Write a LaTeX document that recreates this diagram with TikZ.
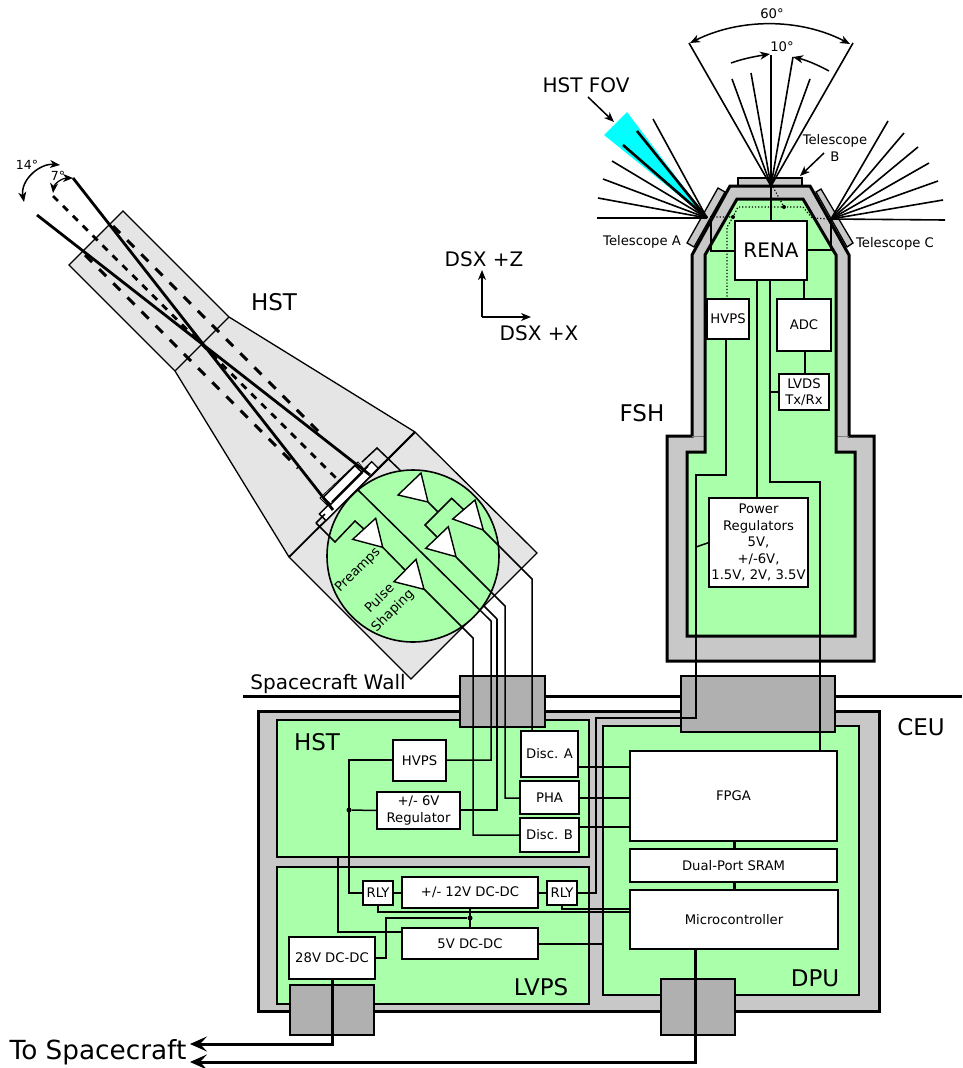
\documentclass[tikz,border=0pt]{standalone}
\usepackage{fontspec}
\setmainfont{DejaVu Sans}
\usetikzlibrary{arrows.meta}
\definecolor{gr}{HTML}{AAFFAA}
\definecolor{hs}{HTML}{C8C8C8}
\definecolor{cn}{HTML}{B0B0B0}
\definecolor{pn}{HTML}{E5E5E5}
\definecolor{fovc}{HTML}{00FFFF}
\tikzset{
 wire/.style={line width=1.5pt,line join=miter},
 heavy/.style={line width=3pt},
 box/.style={draw,fill=white,line width=1.6pt,inner sep=0pt,outer sep=0pt,align=center},
 conn/.style={draw,fill=cn,line width=1.4pt},
 panel/.style={draw,fill=gr,line width=1.4pt},
 tri/.style={draw,fill=white,line width=1.4pt,line join=miter},
 biglab/.style={font=\fontsize{23}{28}\selectfont,inner sep=0pt},
 midlab/.style={font=\fontsize{20}{24}\selectfont,inner sep=0pt},
 smalllab/.style={font=\fontsize{13.2}{16}\selectfont,inner sep=0pt},
 tinylab/.style={font=\fontsize{12.5}{14}\selectfont,inner sep=0pt},
 boxtext/.style={font=\fontsize{13.2}{16.5}\selectfont,inner sep=0pt,align=center},
 jdot/.style={circle,fill=black,inner sep=0pt,minimum size=5pt},
 ray/.style={line width=1.6pt},
 thickray/.style={line width=2.6pt},
 arr/.style={line width=1.5pt,-{Stealth[length=10pt,width=8pt,inset=3pt]}},
 darr/.style={line width=1.5pt,{Stealth[length=10pt,width=8pt,inset=3pt]}-{Stealth[length=10pt,width=8pt,inset=3pt]}},
 outarr/.style={line width=3pt,-{Stealth[length=17pt,width=15pt,inset=7pt]}},
}
\newcommand{\bx}[6][]{\node[box,#1,minimum width={(#5-#3)*1pt},minimum height={(#6-#4)*1pt}] (#2) at ({(#3+#5)/2},{(#4+#6)/2}) {};}
\begin{document}
\begin{tikzpicture}[x=1pt,y=-1pt]
\useasboundingbox (0,0) rectangle (962,1068);
% ---- HST head
\draw[fill=pn,line width=1.3pt,line join=miter] (123,211)--(229,317)--(415,432)--(537,553)--(411,679)--(289,557)--(175,371)--(69,265)--cycle;
\draw[line width=1.3pt] (175,371)--(229,317);
\draw[line width=1.8pt] (289,557)--(415,432);
\draw[line width=3pt,dash pattern=on 10pt off 10pt] (113,226)--(324,437);
\draw[line width=3pt,dash pattern=on 10pt off 10pt] (85,255)--(298,468);
\draw[line width=2.8pt,dash pattern=on 7pt off 7pt] (53,196)--(337,479);
% detector plates
\draw[fill=white,line width=.8pt] (358,462)--(320,498)--(332,510)--(368,474)--cycle;
\draw[tri] (371.7,461.7)--(378.3,468.3)--(326,520.7)--(319.3,514)--cycle;
\draw[tri] (355,465.7)--(323.3,497.3)--(330.7,504.3)--(362.3,472.7)--cycle;
\draw[line width=2pt] (368,466)--(332,502);
\draw[wire] (316,523)--(325,514);
\draw[wire] (362,462)--(377,448)--(402,472)--(402,475)--(410,483);
% wire passing under the circle
\coordinate (undercircle) at (470,592);
\coordinate (regtap) at (497,619);
\draw[wire] (undercircle)--(regtap);
% circle
\node[circle,draw,fill=gr,line width=1.6pt,minimum size=172pt,inner sep=0pt] (can) at (413,556) {};
\draw[line width=1.8pt] (415,432)--(370,477);
\draw[line width=2.8pt] (73,178)--(333,510);
\draw[line width=2.8pt] (37,215)--(370,475);
\draw[wire] (316,523)--(335,542)--(355,521)--(365,530);
\draw[wire] (463.3,509.3)--(451.7,498.3)--(425,525)--(436.7,536.7);
\draw[wire] (428,502)--(438,512);
\draw[wire] (382.7,547.3)--(405,570);
\draw[tri] (398,495)--(421,473)--(428,502)--cycle;
\draw[tri] (452.7,519)--(475,500)--(483.3,530)--cycle;
\draw[tri] (425.7,548.3)--(448.3,526.7)--(456,556.7)--cycle;
\draw[tri] (352.7,539.3)--(375.7,518.3)--(382.7,547.3)--cycle;
\draw[tri] (394,581.7)--(416,559.3)--(424,589.3)--cycle;
\node[smalllab,rotate=45] (preamps) at (358,570) {Preamps};
\node[smalllab,rotate=45] (pulse) at (379,598) {Pulse};
\node[smalllab,rotate=45] (shaping) at (393,611) {Shaping};
\node[tinylab] (l14) at (27,165) {14°};
\node[tinylab] (l7) at (58,176) {7°};
\draw[darr] (60,165) .. controls (40,163) and (20,180) .. (24,202);
\draw[darr,line width=1.2pt] (73,178) .. controls (62,178) and (54,184) .. (53,193);
\node[biglab] (hstlab) at (274,302) {HST};
% ---- axes
\coordinate (ax) at (482,317);
\coordinate (axz) at (482,270);
\coordinate (axx) at (531,317);
\draw[arr] (ax)--(axz);
\draw[arr] (ax)--(axx);
\node[midlab] (dsxz) at (484,259) {DSX +Z};
\node[midlab] (dsxx) at (539,333) {DSX +X};
% ---- FSH
\fill[fovc] (604,135)--(627,112)--(707,218)--cycle;
\draw[fill=hs,line width=1.3pt] (718,188)--(725,192)--(694,247)--(687,243)--cycle;
\draw[fill=hs,line width=1.3pt] (816,192)--(821,189)--(853,243)--(847,247)--cycle;
\draw[fill=hs,line width=1.3pt] (738,178) rectangle (802,187);
\draw[fill=hs,line width=3pt,line join=miter] (667,436)--(692,436)--(692,255)--(730,186)--(810,186)--(849,255)--(849,436)--(874,436)--(874,661)--(667,661)--cycle;
\draw[gray,line width=.8pt] (692,436)--(705,436) (836,436)--(849,436);
\draw[fill=gr,line width=3pt,line join=miter] (687,452)--(705,452)--(705,255)--(737,199)--(803,199)--(836,255)--(836,452)--(855,452)--(855,636)--(687,636)--cycle;
% telescope rays
\coordinate (apA) at (707,218);
\coordinate (apB) at (771,186);
\coordinate (apC) at (831,219);
\foreach \p in {(597,218),(598,198),(603,179),(612,161),(653,119)} \draw[ray] (apA)--\p;
\foreach \p in {(623,145),(637,131)} \draw[thickray] (apA)--\p;
\foreach \p in {(945,220),(943,200),(938,181),(929,163),(918,147),(904,133),(888,121)} \draw[ray] (apC)--\p;
\foreach \p in {(689,43),(732,79),(751,73),(793,57),(810,79),(853,43)} \draw[ray] (apB)--\p;
\draw[thickray] (apB)--(771,55);
\draw[darr] (690,43) .. controls (740,18) and (800,18) .. (850,44);
\draw[arr] (731,63) .. controls (745,58) and (758,56) .. (770,54);
\draw[arr] (829,71) .. controls (818,65) and (806,60) .. (793,57);
\node[smalllab] (l60) at (772,14) {60°};
\node[smalllab] (l10) at (782,47) {10°};
\node[midlab] (fov) at (586,85) {HST FOV};
\coordinate (fovA) at (588,97);
\coordinate (fovB) at (614,122);
\draw[arr] (fovA)--(fovB);
\node[smalllab] (tb) at (835,141) {Telescope};
\node[smalllab] (tbb) at (835,157) {B};
\coordinate (tbA) at (824,153);
\coordinate (tbB) at (800,176);
\draw[arr] (tbA)--(tbB);
\node[smalllab] (ta) at (642,242) {Telescope A};
\node[smalllab] (tc) at (895,244) {Telescope C};
\node[biglab] (fshlab) at (642,413) {FSH};
% FSH boxes
\bx{rena}{735}{221}{807}{280}
\bx{hv}{707}{299}{749}{339}
\bx{adc}{777}{299}{831}{351}
\bx{lvds}{779}{374}{829}{410}
\bx{power}{709}{498}{808}{587}
\node[font=\fontsize{20}{24}\selectfont,inner sep=0pt] at (rena) {RENA};
\node[boxtext] at (hv) {HVPS};
\node[boxtext] at (adc) {ADC};
\node[boxtext] at (lvds) {LVDS\\Tx/Rx};
\node[boxtext] at (power) {Power\\Regulators\\5V,\\+/-6V,\\1.5V, 2V, 3.5V};
\draw[wire] (apB)--(771,221);
\draw[wire] (rena.west |- 0,251)--(711,251)--(711,216);
\draw[wire] (rena.east |- 0,250)--(831,250)--(831,218);
\draw[wire] (804,280)--(804,299);
\draw[wire] (805,351)--(805,374);
\draw[wire] (757,280)--(757,498);
\draw[wire] (lvds.west)--(770,392);
\draw[line width=1.2pt,dotted] (773,187)--(784,207);
\draw[line width=1.2pt,dotted] (710,217)--(733,217)--(738,207)--(803,207)--(812,218)--(830,219);
\draw[line width=1.2pt,dotted] (733,217)--(727,227)--(727,299);
\node[jdot,minimum size=4pt] (d1) at (784,207) {};
\node[jdot,minimum size=4pt] (d2) at (733,217) {};
% ---- CEU
\draw[line width=3pt] (243,696)--(962,696);
\node[midlab] (wall) at (328,684) {Spacecraft Wall};
\draw[fill=hs,line width=3pt] (258,711) rectangle (879,1011);
\draw[panel] (277,720) rectangle (589,857);
\draw[panel] (277,867) rectangle (589,1004);
\draw[panel] (603,726) rectangle (859,995);
\draw[conn] (460,676) rectangle (545,727);
\draw[conn] (681,676) rectangle (835,732);
\draw[conn] (290,985) rectangle (374,1035);
\draw[conn] (661,979) rectangle (735,1035);
\node[biglab] at (921,727) {CEU};
\node[biglab] at (317,742) {HST};
\node[biglab] at (541,987) {LVPS};
\node[biglab] at (815,978) {DPU};
\node[font=\fontsize{26.3}{30}\selectfont,inner sep=0pt] (tosc) at (98,1052) {To Spacecraft};
% boxes
\bx{hvb}{393}{740}{446}{781}
\bx{reg}{377}{792}{460}{829}
\bx{da}{521}{731}{578}{777}
\bx{pha}{520}{781}{579}{814}
\bx{db}{520}{818}{579}{852}
\bx{fpga}{630}{751}{837}{841}
\bx{sram}{630}{849}{837}{882}
\bx{mc}{630}{890}{838}{949}
\bx{d12}{402}{877}{538}{908}
\bx{d5}{402}{928}{538}{959}
\bx{d28}{289}{937}{375}{979}
\bx{rl}{363}{881}{393}{905}
\bx{rr}{547}{881}{577}{905}
\foreach \n/\t in {hvb/HVPS,da/Disc. A,pha/PHA,db/Disc. B,fpga/FPGA,sram/Dual-Port SRAM,mc/Microcontroller,d12/{+/- 12V DC-DC},d5/5V DC-DC,d28/28V DC-DC,rl/RLY,rr/RLY}
  \node[boxtext] at (\n) {\t};
\node[boxtext] at (reg) {+/- 6V\\Regulator};
% wires over connectors
\draw[wire] (regtap)--(497,810)--(reg.east |- 0,810);
\draw[wire] (483,530)--(532,579)--(532,731);
\draw[wire] (456,557)--(505,606)--(505,798)--(pha.west |- 0,798);
\draw[wire] (424,589)--(473,638)--(473,835)--(db.west |- 0,835);
\draw[wire] (358,490)--(491,621)--(491,760)--(hvb.east |- 0,760);
\draw[wire] (770,280)--(770,482)--(820,482)--(820,751);
\draw[wire] (hvb.west |- 0,760)--(349,760)--(349,893)--(rl.west);
\node[jdot] (j1) at (349,810) {};
\draw[wire] (reg.west)--(j1);
\draw[wire] (338,857)--(338,932)--(d5.west |- 0,932);
\draw[wire] (rl.east)--(d12.west |- rl.east);
\draw[wire] (d12.east |- rr.west)--(rr.west);
\draw[wire] (rr.east)--(596,893)--(596,718)--(696,718)--(696,475)--(726,475)--(726,339);
\draw[wire] (power.west)--(696,547);
\draw[wire] (378,905)--(378,912)--(mc.west |- 0,912);
\draw[wire] (562,905)--(562,909)--(mc.west |- 0,909);
\draw[wire] (d5.east |- 0,944)--(603,944);
\draw[wire] (470,908)--(470,928);
\node[jdot] (j2) at (470,918) {};
\draw[wire] (d28.east |- 0,958)--(386,958)--(386,918)--(j2);
\draw[wire] (da.east |- 0,767)--(fpga.west |- 0,767);
\draw[wire] (pha.east |- 0,798)--(fpga.west |- 0,798);
\draw[wire] (db.east |- 0,827)--(fpga.west |- 0,827);
\draw[heavy] (734,841)--(734,849);
\draw[heavy] (734,882)--(734,890);
\coordinate (t1) at (190,1044);
\coordinate (t2) at (190,1062);
\draw[outarr] (332,979)--(332,1044)--(t1);
\draw[outarr] (695,949)--(695,1062)--(t2);
\end{tikzpicture}
\end{document}
